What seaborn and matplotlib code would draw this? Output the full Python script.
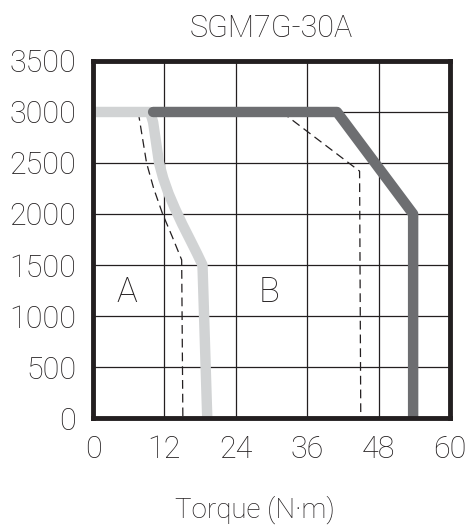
import matplotlib
matplotlib.use("Agg")
import matplotlib.pyplot as plt
import seaborn as sns

# speed-torque curves, torque in N·m, speed in min-1
a_torque = [0, 9.6, 10.1, 10.6, 11.1, 11.8, 12.7, 13.8, 15.0, 16.3, 17.5, 18.4, 19.2]
a_speed = [3000, 3000, 2900, 2700, 2500, 2350, 2200, 2050, 1900, 1750, 1610, 1500, 0]

b_torque = [10.1, 41.0, 53.8, 53.8]
b_speed = [3000, 3000, 2000, 0]

a_dash_torque = [7.6, 8.3, 9.0, 10.2, 11.7, 13.3, 14.9, 15.1]
a_dash_speed = [3000, 2750, 2500, 2250, 2000, 1780, 1550, 0]

b_dash_torque = [31.7, 44.8, 45.0]
b_dash_speed = [3000, 2420, 0]

x_ticks = [0, 12, 24, 36, 48, 60]
y_ticks = [0, 500, 1000, 1500, 2000, 2500, 3000, 3500]

sns.set_style("white")
plt.rcParams['font.family'] = ['Roboto', 'DejaVu Sans']
plt.rcParams['font.weight'] = 'light'
ink = '#231f20'

fig = plt.figure(figsize=(4.66, 5.28), dpi=100)
ax = fig.add_axes([0.1996, 0.2083, 0.9657 - 0.1996, 0.8845 - 0.2083])

# grid first so curves sit on top
for v in x_ticks[1:-1]:
    ax.axvline(v, color=ink, lw=0.9, zorder=1)
for v in y_ticks[1:-1]:
    ax.axhline(v, color=ink, lw=0.9, zorder=1)

sns.lineplot(x=a_dash_torque, y=a_dash_speed, sort=False, estimator=None, ax=ax,
             color=ink, lw=0.9, dashes=False, linestyle=(0, (7, 4)), zorder=2)
sns.lineplot(x=b_dash_torque, y=b_dash_speed, sort=False, estimator=None, ax=ax,
             color=ink, lw=0.9, dashes=False, linestyle=(0, (7, 4)), zorder=2)
sns.lineplot(x=a_torque, y=a_speed, sort=False, estimator=None, ax=ax,
             color='#d1d3d4', lw=7.5, zorder=3)
sns.lineplot(x=b_torque, y=b_speed, sort=False, estimator=None, ax=ax,
             color='#6d6e71', lw=7.5, zorder=4)

ax.set_xlim(0, 60); ax.set_ylim(0, 3500)
ax.set_xticks(x_ticks); ax.set_yticks(y_ticks)
ax.tick_params(length=0, labelsize=22, labelcolor=ink, pad=12)
for s in ax.spines.values():
    s.set_color(ink); s.set_linewidth(3.5); s.set_zorder(5)

ax.text(5.7, 1230, "A", fontsize=25, color=ink, ha='center', va='center')
ax.text(29.6, 1230, "B", fontsize=25, color=ink, ha='center', va='center')

ax.set_title("SGM7G-30A", fontsize=22, color=ink, pad=17, fontweight='light')
fig.text(255 / 466, 10 / 528, "Torque (N·m)", fontsize=20, color=ink,
         ha='center', va='baseline')

fig.savefig("out.png", dpi=100)
